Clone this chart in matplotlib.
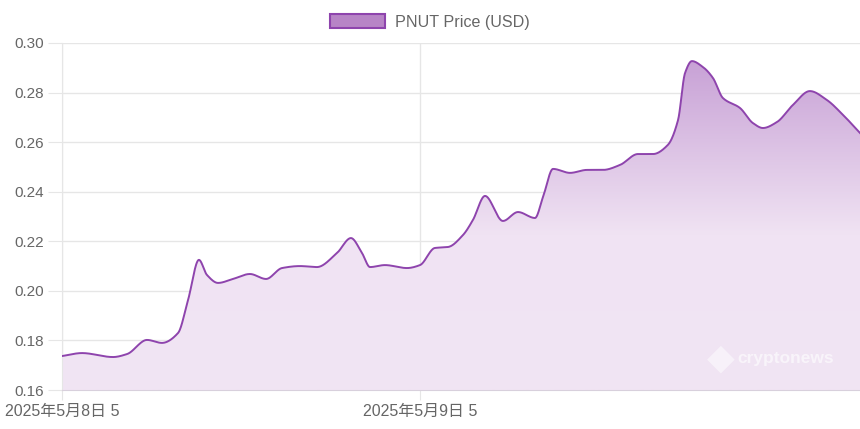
import numpy as np
import matplotlib
matplotlib.use("Agg")
from matplotlib import pyplot as plt
from matplotlib.patches import Patch
from matplotlib.colors import LinearSegmentedColormap

# hours since 2025-05-08 05:00, and PNUT price in USD
hours = [0, 1.34, 3.42, 4.36, 5.70, 6.70, 7.78, 8.45, 9.18, 9.72,
         10.46, 11.46, 12.6, 13.68, 14.75, 15.96, 17.09, 18.44, 19.37, 20.11,
         20.65, 21.65, 23.13, 24.0, 25.0, 25.88, 26.88, 27.55, 28.36, 29.56,
         30.57, 31.71, 32.25, 32.92, 34.06, 35.2, 36.27, 37.41, 38.61, 39.62,
         40.62, 41.3, 41.77, 42.23, 42.97, 43.64, 44.31, 45.45, 46.32, 46.99,
         47.93, 49.0, 50.14, 51.28, 52.36, 53.5]
price = [0.1737, 0.1749, 0.1733, 0.1745, 0.1802, 0.1790, 0.1830, 0.1963, 0.2125, 0.2064,
         0.2032, 0.2048, 0.2068, 0.2048, 0.2092, 0.2100, 0.2096, 0.2153, 0.2213, 0.2153,
         0.2096, 0.2104, 0.2092, 0.2104, 0.2173, 0.2177, 0.2225, 0.2286, 0.2383, 0.2282,
         0.2318, 0.2294, 0.2379, 0.2492, 0.2476, 0.2488, 0.2488, 0.2508, 0.2552, 0.2552,
         0.2589, 0.2689, 0.2879, 0.2927, 0.2903, 0.2859, 0.2778, 0.2738, 0.2677, 0.2657,
         0.2681, 0.2750, 0.2806, 0.2770, 0.2710, 0.2637]
tick_hours = [0, 24]
tick_labels = ["2025年5月8日 5", "2025年5月9日 5"]
y_ticks = [0.16, 0.18, 0.20, 0.22, 0.24, 0.26, 0.28, 0.30]

line_col = "#8e44ad"
txt_col = "#666666"
grid_col = "#e6e6e6"


def smooth(x, y, n=2000):
    # monotone cubic (Fritsch-Carlson), like chart.js cubicInterpolationMode
    x = np.asarray(x, float); y = np.asarray(y, float)
    h = np.diff(x); d = np.diff(y) / h
    m = np.zeros_like(y)
    m[0], m[-1] = d[0], d[-1]
    for i in range(1, len(y) - 1):
        if d[i - 1] * d[i] <= 0:
            m[i] = 0
        else:
            w1 = 2 * h[i] + h[i - 1]; w2 = h[i] + 2 * h[i - 1]
            m[i] = (w1 + w2) / (w1 / d[i - 1] + w2 / d[i])
    xs = np.linspace(x[0], x[-1], n)
    idx = np.clip(np.searchsorted(x, xs) - 1, 0, len(x) - 2)
    t = (xs - x[idx]) / h[idx]
    h00 = 2*t**3 - 3*t**2 + 1; h10 = t**3 - 2*t**2 + t
    h01 = -2*t**3 + 3*t**2; h11 = t**3 - t**2
    ys = h00*y[idx] + h10*h[idx]*m[idx] + h01*y[idx+1] + h11*h[idx]*m[idx+1]
    return xs, ys


xs, ys = smooth(hours, price)

fig = plt.figure(figsize=(8.6, 4.29), dpi=100)
ax = fig.add_axes([62/860, 39/429, 798/860, 347/429])
ax.set_xlim(0, 53.5)
ax.set_ylim(0.16, 0.30)

# gradient fill under the curve
cmap = LinearSegmentedColormap.from_list(
    "pnut", [(0.0, "#f1e5f4"), (0.45, "#f0e3f3"), (1.0, "#c49bd3")])
grad = np.linspace(0, 1, 256).reshape(-1, 1)
im = ax.imshow(grad, extent=[0, 53.5, 0.16, 0.30], origin="lower",
               aspect="auto", cmap=cmap, vmin=0, vmax=1, zorder=1)
poly = ax.fill_between(xs, ys, 0.16, color="none", lw=0)
im.set_clip_path(poly.get_paths()[0], transform=ax.transData)

ax.plot(xs, ys, color=line_col, lw=1.4, zorder=3)

ax.set_yticks(y_ticks)
ax.set_yticklabels([f"{v:.2f}" for v in y_ticks], family="Liberation Sans", fontsize=11)
ax.set_xticks(tick_hours)
ax.set_xticklabels(tick_labels, family=["Liberation Sans", "Noto Sans CJK JP"], fontsize=11.5)
ax.grid(True, color=grid_col, lw=1, zorder=0)
ax.set_axisbelow(True)
ax.tick_params(axis="y", colors=grid_col, labelcolor=txt_col, length=10, pad=3)
ax.tick_params(axis="x", colors=grid_col, labelcolor=txt_col, length=7, pad=3)
for s in ["top", "right"]:
    ax.spines[s].set_visible(False)
ax.spines["left"].set_color(grid_col)
ax.spines["bottom"].set_color("#d8d0dc")

# faint watermark
ax.text(0.967, 0.092, "cryptonews", transform=ax.transAxes, ha="right", va="center",
        color="white", alpha=0.6, fontsize=12.5, fontweight="bold",
        family="Liberation Sans", zorder=2)
ax.text(0.825, 0.092, "◆", transform=ax.transAxes, ha="center", va="center",
        color="white", alpha=0.5, fontsize=26, zorder=2)

handle = Patch(facecolor="#b784c6", edgecolor=line_col, lw=1.5)
fig.legend([handle], ["PNUT Price (USD)"], loc="center",
           bbox_to_anchor=(0.5, 0.949), frameon=False,
           handlelength=3.4, handleheight=1.0, handletextpad=0.6,
           labelcolor=txt_col, prop={"family": "Liberation Sans", "size": 11.6})

fig.savefig("out.png", dpi=100)
